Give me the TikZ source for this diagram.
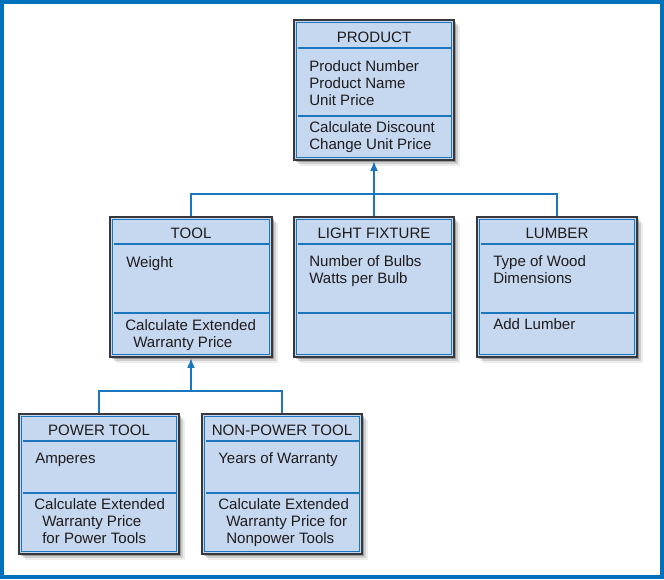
\documentclass[tikz,border=0pt]{standalone}
\usepackage{fontspec}
\setmainfont{Liberation Sans}
\usetikzlibrary{fit,shadows,arrows.meta}
\definecolor{frameblue}{RGB}{0,114,188}
\definecolor{lineblue}{RGB}{28,118,190}
\definecolor{boxfill}{RGB}{198,216,240}
\definecolor{boxedge}{RGB}{55,55,60}
\definecolor{ink}{RGB}{30,27,28}
\tikzset{
  classbox/.style={inner sep=0pt, draw=boxedge, line width=1.4pt, fill=boxfill,
    drop shadow={shadow xshift=4.5pt, shadow yshift=-4.5pt, opacity=0.07, fill=black},
    drop shadow={shadow xshift=3pt, shadow yshift=-3pt, opacity=0.13, fill=black},
    drop shadow={shadow xshift=1.6pt, shadow yshift=-1.6pt, opacity=0.25, fill=black}},
  innerline/.style={draw=lineblue, line width=1.1pt},
  divline/.style={draw=lineblue, line width=1.2pt},
  ttldiv/.style={draw=lineblue, line width=1.4pt},
  conn/.style={draw=lineblue, line width=1.4pt},
  tip/.style={-{Latex[length=7.5pt,width=6pt]}},
  txt/.style={anchor=base west, inner sep=0pt, text=ink, font=\fontsize{11.3pt}{13pt}\selectfont},
  ttl/.style={anchor=base, inner sep=0pt, text=ink, font=\fontsize{11.3pt}{13pt}\selectfont},
}
\begin{document}
\begin{tikzpicture}[x=0.75pt,y=-0.75pt]
\useasboundingbox (0,0) rectangle (664,579);
\draw[frameblue, line width=2.8pt] (1.9,1.9) rectangle (662.1,577.1);

% ---------- boxes ----------
\coordinate (pa) at (294,20);  \coordinate (pb) at (454,160);
\coordinate (ta) at (110,217); \coordinate (tb) at (272,357);
\coordinate (la) at (294,217); \coordinate (lb) at (454,357);
\coordinate (ua) at (477,217); \coordinate (ub) at (637,357);
\coordinate (wa) at (19,414);  \coordinate (wb) at (179,554);
\coordinate (na) at (202,414); \coordinate (nb) at (362,554);
\node[classbox, fit=(pa)(pb)] (product) {};
\node[classbox, fit=(ta)(tb)] (tool) {};
\node[classbox, fit=(la)(lb)] (light) {};
\node[classbox, fit=(ua)(ub)] (lumber) {};
\node[classbox, fit=(wa)(wb)] (power) {};
\node[classbox, fit=(na)(nb)] (nonpower) {};

\foreach \b in {product,tool,light,lumber,power,nonpower}{
  \draw[innerline] ([shift={(3.5,3.5)}]\b.north west) rectangle ([shift={(-3.5,-3.5)}]\b.south east);
}

% dividers
\draw[ttldiv] (297.5,48) -- (450.5,48);
\draw[divline] (297.5,116) -- (450.5,116);
\foreach \xa/\xb in {113.5/268.5, 297.5/450.5, 480.5/633.5}{
  \draw[ttldiv] (\xa,244) -- (\xb,244);
  \draw[divline] (\xa,313) -- (\xb,313);
}
\foreach \xa/\xb in {22.5/175.5, 205.5/358.5}{
  \draw[ttldiv] (\xa,441) -- (\xb,441);
  \draw[divline] (\xa,493) -- (\xb,493);
}

% ---------- texts ----------
\node[ttl] (t-product) at (374,42) {PRODUCT};
\node[txt] (p1) at (309,71) {Product Number};
\node[txt] (p2) at (309,88) {Product Name};
\node[txt] (p3) at (309,105) {Unit Price};
\node[txt] (p4) at (309,132) {Calculate Discount};
\node[txt] (p5) at (309,149) {Change Unit Price};

\node[ttl] (t-tool) at (191,238) {TOOL};
\node[txt] (to1) at (126,267) {Weight};
\node[txt] (to2) at (125,330) {Calculate Extended};
\node[txt] (to3) at (133,347) {Warranty Price};

\node[ttl] (t-light) at (374,238) {LIGHT FIXTURE};
\node[txt] (l1) at (309,266) {Number of Bulbs};
\node[txt] (l2) at (309,283) {Watts per Bulb};

\node[ttl] (t-lumber) at (557,238) {LUMBER};
\node[txt] (lu1) at (493,266) {Type of Wood};
\node[txt] (lu2) at (493,283) {Dimensions};
\node[txt] (lu3) at (493,329) {Add Lumber};

\node[ttl] (t-power) at (99,435) {POWER TOOL};
\node[txt] (pw1) at (35,463) {Amperes};
\node[txt] (pw2) at (34,509) {Calculate Extended};
\node[txt] (pw3) at (42,526) {Warranty Price};
\node[txt] (pw4) at (42,543) {for Power Tools};

\node[ttl] (t-nonpower) at (282,435) {NON-POWER TOOL};
\node[txt] (np1) at (218,463) {Years of Warranty};
\node[txt] (np2) at (218,509) {Calculate Extended};
\node[txt] (np3) at (226,526) {Warranty Price for};
\node[txt] (np4) at (226,543) {Nonpower Tools};

% ---------- connectors ----------
\coordinate (bus1) at (374,194);
\coordinate (bus2) at (191,391);
\draw[conn,tip] (bus1) -- (product.south);
\draw[conn] (tool.north) |- (bus1) -| (lumber.north);
\draw[conn] (light.north) -- (bus1);
\draw[conn,tip] (bus2) -- (tool.south);
\draw[conn] (power.north) |- (bus2) -| (nonpower.north);
\end{tikzpicture}
\end{document}
